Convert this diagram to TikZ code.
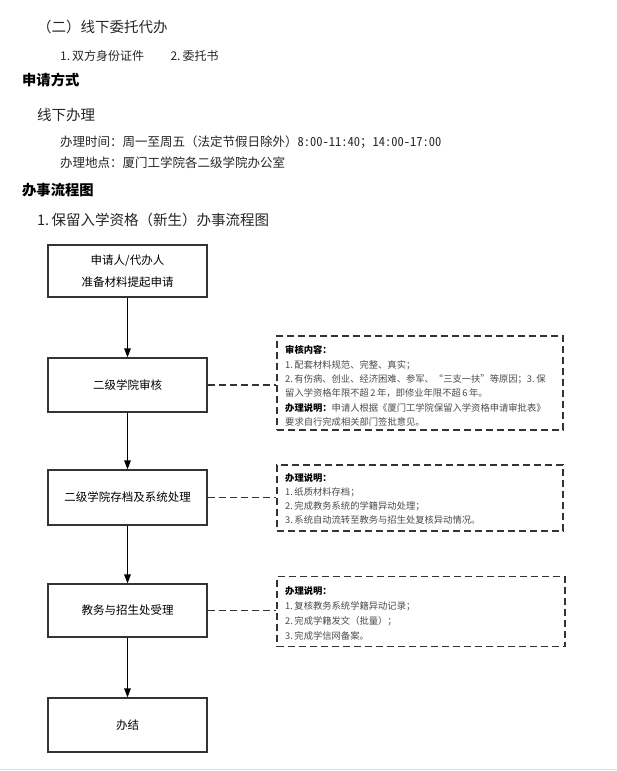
\documentclass[tikz,border=0pt]{standalone}
\usepackage{fontspec}
\setmainfont{Noto Sans CJK SC}
\usetikzlibrary{arrows.meta}
\newcommand{\halfw}[1]{{\addfontfeature{RawFeature=+hwid}#1}}
\begin{document}
\begin{tikzpicture}[x=1pt,y=-1pt,
  txt/.style={anchor=west,inner sep=0pt,text=black!85},
  h1/.style={txt,font=\fontsize{14.5}{16}\selectfont},
  h2/.style={txt,font=\fontsize{14.3}{16}\selectfont\bfseries,text=black},
  body/.style={txt,font=\fontsize{12}{14}\selectfont},
  bodyl/.style={txt,font=\fontsize{12.5}{14}\selectfont},
  flowbox/.style={draw=black!80,line width=1.1pt,minimum width=159pt,inner sep=0pt,align=center,font=\fontsize{11.5}{22}\selectfont},
  notebox/.style={draw=black!80,line width=1.1pt,dash pattern=on 7pt off 4pt,inner sep=0pt},
  note/.style={txt,font=\fontsize{9.3}{11}\selectfont,text=black!70},
  notehead/.style={txt,font=\fontsize{9.3}{11}\selectfont\bfseries,text=black},
  flow/.style={draw=black,line width=1.1pt,-{Triangle[length=9pt,width=6.5pt]}},
  link/.style={draw=black!80,line width=1.1pt,dash pattern=on 7pt off 4pt}
]
\useasboundingbox (0,0) rectangle (617,771);
\fill[white] (0,0) rectangle (617,771);
\draw[black!12,line width=1pt] (0,769.5) -- (617,769.5);

% header text
\node[h1] (t1) at (37,27) {（二）线下委托代办};
\node[body] (t2) at (60,56) {1.\,双方身份证件\hspace{2.2em}2.\,委托书};
\node[h2] (t3) at (22,80) {申请方式};
\node[h1] (t4) at (37,115) {线下办理};
\node[bodyl] (t5) at (60,142) {办理时间：周一至周五（法定节假日除外）\halfw{8:00-11:40}；\halfw{14:00-17:00}};
\node[bodyl] (t6) at (60,163) {办理地点：厦门工学院各二级学院办公室};
\node[h2] (t7) at (22,190) {办事流程图};
\node[h1] (t8) at (37,220) {1.\,保留入学资格（新生）办事流程图};

% flow boxes
\node[flowbox,minimum height=52pt] (b1) at (127.5,271) {申请人/代办人\\准备材料提起申请};
\node[flowbox,minimum height=54pt] (b2) at (127.5,385) {二级学院审核};
\node[flowbox,minimum height=55pt] (b3) at (127.5,497.5) {二级学院存档及系统处理};
\node[flowbox,minimum height=53pt] (b4) at (127.5,610.5) {教务与招生处受理};
\node[flowbox,minimum height=54pt] (b5) at (127.5,725) {办结};

\draw[flow] (b1) -- (b2);
\draw[flow] (b2) -- (b3);
\draw[flow] (b3) -- (b4);
\draw[flow] (b4) -- (b5);

% note boxes
\node[notebox,minimum width=286pt,minimum height=94pt] (na) at (420,383) {};
\node[notebox,minimum width=286pt,minimum height=66pt] (nb) at (420,498) {};
\node[notebox,minimum width=288pt,minimum height=70pt] (nc) at (421,611.5) {};

\draw[link] (b2.east) -- (b2.east -| na.west);
\draw[link] (b3.east) -- (b3.east -| nb.west);
\draw[link] (b4.east) -- (b4.east -| nc.west);

% note A text
\node[notehead] (a1) at (285,350) {审核内容：};
\node[note] (a2) at (285,365) {1.\,配套材料规范、完整、真实；};
\node[note] (a3) at (285,379) {2.\,有伤病、创业、经济困难、参军、“三支一扶”等原因；3.\,保};
\node[note] (a4) at (285,393) {留入学资格年限不超\,2\,年，即修业年限不超\,6\,年。};
\node[note] (a5) at (285,408) {\textbf{\color{black}办理说明：}申请人根据《厦门工学院保留入学资格申请审批表》};
\node[note] (a6) at (285,422) {要求自行完成相关部门签批意见。};

% note B text
\node[notehead] (bb1) at (285,478) {办理说明：};
\node[note] (bb2) at (285,492) {1.\,纸质材料存档；};
\node[note] (bb3) at (285,506) {2.\,完成教务系统的学籍异动处理；};
\node[note] (bb4) at (285,520) {3.\,系统自动流转至教务与招生处复核异动情况。};

% note C text
\node[notehead] (c1) at (285,591) {办理说明：};
\node[note] (c2) at (285,606) {1.\,复核教务系统学籍异动记录；};
\node[note] (c3) at (285,621) {2.\,完成学籍发文（批量）；};
\node[note] (c4) at (285,636) {3.\,完成学信网备案。};
\end{tikzpicture}
\end{document}
